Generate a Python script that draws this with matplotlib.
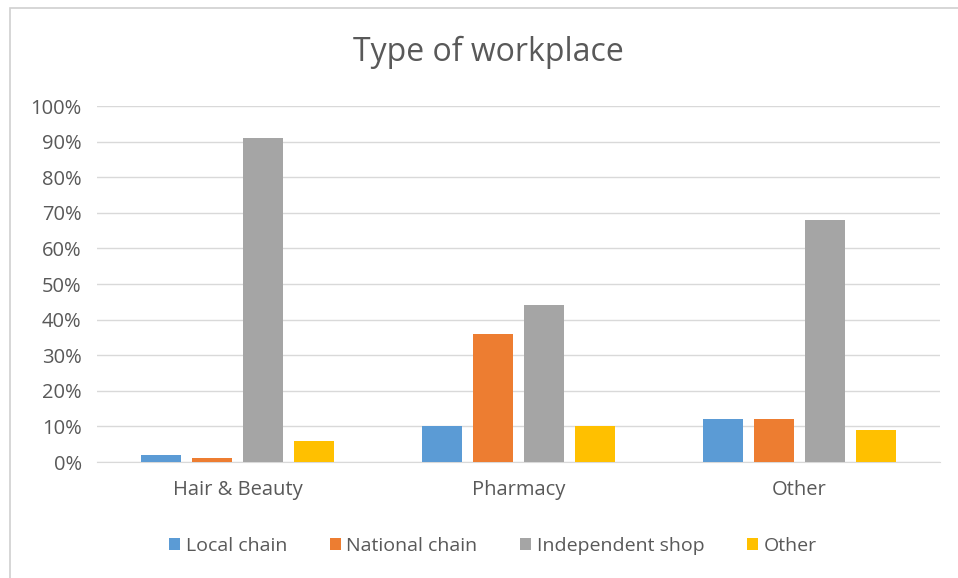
import numpy as np
import matplotlib.pyplot as plt
from matplotlib.patches import Rectangle

categories = ["Hair & Beauty", "Pharmacy", "Other"]
series = ["Local chain", "National chain", "Independent shop", "Other"]
local_chain = [2, 10, 12]
national_chain = [1, 36, 12]
independent_shop = [91, 44, 68]
other = [6, 10, 9]
yticks = [0, 10, 20, 30, 40, 50, 60, 70, 80, 90, 100]

colors = ["#5B9BD5", "#ED7D31", "#A5A5A5", "#FFC000"]
values = [local_chain, national_chain, independent_shop, other]

plt.rcParams['font.family'] = ['Open Sans', 'DejaVu Sans']

fig = plt.figure(figsize=(9.58, 5.78), dpi=100)
ax = fig.add_axes([97/958, 1-462/578, 843/958, 356/578])

x = np.arange(len(categories))
width = 0.143
step = 0.182
for i, (name, vals) in enumerate(zip(series, values)):
    ax.bar(x + (i-1.5)*step, vals, width, color=colors[i], label=name, zorder=3)

ax.set_xlim(-0.5, 2.5)
ax.set_ylim(0, 100)
ax.set_yticks(yticks)
ax.set_yticklabels([f"{t}%" for t in yticks], color="#595959", fontsize=14.5)
ax.set_xticks(x)
ax.set_xticklabels(categories, color="#595959", fontsize=14.5)
ax.tick_params(axis="y", length=0, pad=11)
ax.tick_params(axis="x", length=0, pad=13)
ax.grid(axis="y", color="#D9D9D9", linewidth=1, zorder=0)
for s in ["top", "right", "left"]:
    ax.spines[s].set_visible(False)
ax.spines["bottom"].set_color("#D9D9D9")

fig.text(488/958, 1-52/578, "Type of workplace", ha="center", va="center",
         fontsize=23, color="#595959")

fig.legend(loc="center", bbox_to_anchor=(493/958, 1-546/578), ncol=4, frameon=False,
           fontsize=14, handlelength=0.55, handleheight=0.55, handletextpad=0.3,
           columnspacing=2.2, labelcolor="#595959")

fig.patches.append(Rectangle((10/958, -0.05), 1.1, 1.05 - 8/578, transform=fig.transFigure,
                             fill=False, edgecolor="#D0D0D0", linewidth=1.2))

fig.savefig("out.png", dpi=100)
